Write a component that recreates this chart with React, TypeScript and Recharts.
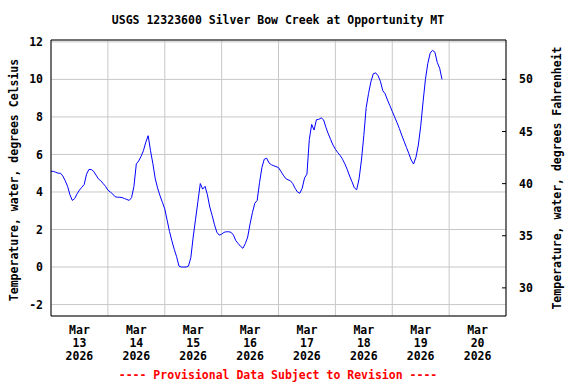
import {
  CartesianGrid,
  Line,
  LineChart,
  ReferenceLine,
  XAxis,
  YAxis,
} from "recharts";

// hourly water temperature (deg C), one array per day starting at 00:00
const mar13 = [5.1, 5.1, 5.05, 5.0, 5.0, 4.85, 4.6, 4.3, 3.85, 3.55, 3.65, 3.9, 4.1, 4.25, 4.4, 4.95, 5.2, 5.2, 5.1, 4.9, 4.7, 4.6, 4.45, 4.3];
const mar14 = [4.1, 4.0, 3.9, 3.75, 3.72, 3.72, 3.7, 3.65, 3.6, 3.55, 3.7, 4.3, 5.5, 5.65, 5.9, 6.2, 6.65, 7.0, 6.2, 5.5, 4.7, 4.2, 3.8, 3.45];
const mar15 = [3.1, 2.5, 1.9, 1.4, 0.95, 0.55, 0.05, 0.0, 0.0, 0.0, 0.05, 0.5, 1.6, 2.55, 3.5, 4.45, 4.15, 4.3, 3.85, 3.2, 2.75, 2.25, 1.85, 1.7];
const mar16 = [1.75, 1.85, 1.88, 1.88, 1.85, 1.7, 1.4, 1.25, 1.1, 1.0, 1.25, 1.6, 2.3, 2.9, 3.4, 3.55, 4.5, 5.3, 5.75, 5.8, 5.55, 5.45, 5.4, 5.35];
const mar17 = [5.3, 5.1, 4.9, 4.72, 4.65, 4.6, 4.45, 4.2, 4.0, 3.93, 4.2, 4.75, 4.95, 6.8, 7.6, 7.3, 7.85, 7.87, 7.95, 7.85, 7.45, 7.1, 6.8, 6.5];
const mar18 = [6.28, 6.1, 5.95, 5.75, 5.5, 5.2, 4.85, 4.55, 4.22, 4.12, 4.7, 5.7, 7.0, 8.5, 9.25, 9.88, 10.3, 10.35, 10.2, 9.9, 9.4, 9.23, 8.9, 8.6];
const mar19 = [8.3, 8.0, 7.7, 7.38, 7.03, 6.7, 6.37, 6.05, 5.7, 5.49, 5.85, 6.5, 7.5, 8.8, 10.0, 10.85, 11.4, 11.55, 11.45, 10.9, 10.6, 10.0];

const days = [mar13, mar14, mar15, mar16, mar17, mar18, mar19];
const dayLabels = ["13", "14", "15", "16", "17", "18", "19", "20"];
const celsiusTicks = [-2, 0, 2, 4, 6, 8, 10, 12];
const fahrenheitTicks = [30, 35, 40, 45, 50];
const midnightTicks = [0, 24, 48, 72, 96, 120, 144, 168, 192];

const C_MIN = -2.61;
const C_MAX = 12.1;
const toF = (c: number) => c * 1.8 + 32;

const data = days.flatMap((day, d) =>
  day.map((temp, h) => ({ hour: d * 24 + h, temp })),
);

const W = 576;
const H = 384;
const LEFT_W = 51;
const RIGHT_W = 70;
const TOP = 40;
const BOTTOM_H = 68;
const DAY_PX = (W - LEFT_W - RIGHT_W) / 8;

const FONT = "'DejaVu Sans Mono', 'Liberation Mono', monospace";
const tickFont = { fill: "#000", fontSize: 11.5, fontFamily: FONT, fontWeight: 700 };

function DayTick({ x, y, payload }: any) {
  const i = Math.round(payload.value / 24);
  if (i >= dayLabels.length) return <g />;
  const cx = x + DAY_PX / 2;
  return (
    <text x={cx} y={y + 18} textAnchor="middle" {...tickFont}>
      <tspan x={cx} dy={0}>Mar</tspan>
      <tspan x={cx} dy={13}>{dayLabels[i]}</tspan>
      <tspan x={cx} dy={13}>2026</tspan>
    </text>
  );
}

function RightTick({ x, y, payload }: any) {
  return (
    <g>
      <line x1={x - 4} x2={x} y1={y} y2={y} stroke="#000" />
      <text x={x + 13} y={y} dy="0.35em" textAnchor="start" {...tickFont}>
        {payload.value}
      </text>
    </g>
  );
}

export default function App() {
  return (
    <div style={{ position: "absolute", left: 0, top: 0, width: W, height: H, background: "#fff" }}>
      <LineChart
        width={W}
        height={H}
        data={data}
        margin={{ top: TOP, right: 0, bottom: 0, left: 0 }}
      >
        <CartesianGrid stroke="#c8c8c8" />
        <XAxis
          dataKey="hour"
          type="number"
          domain={[0, 192]}
          ticks={midnightTicks}
          interval={0}
          height={BOTTOM_H}
          tickSize={0}
          tickMargin={0}
          tickLine={false}
          axisLine={{ stroke: "#000" }}
          tick={<DayTick />}
        />
        <YAxis
          domain={[C_MIN, C_MAX]}
          ticks={celsiusTicks}
          interval={0}
          width={LEFT_W}
          allowDataOverflow
          tickLine={false}
          axisLine={{ stroke: "#000" }}
          tick={tickFont}
        />
        <YAxis
          yAxisId="right"
          orientation="right"
          domain={[toF(C_MIN), toF(C_MAX)]}
          ticks={fahrenheitTicks}
          interval={0}
          width={RIGHT_W}
          allowDataOverflow
          tickSize={0}
          tickMargin={0}
          tickLine={false}
          axisLine={{ stroke: "#000" }}
          tick={<RightTick />}
        />
        <ReferenceLine y={C_MAX} stroke="#000" />
        <Line
          type="linear"
          dataKey="temp"
          stroke="#0000ff"
          strokeWidth={1}
          dot={false}
          isAnimationActive={false}
        />
      </LineChart>
      <svg
        width={W}
        height={H}
        style={{ position: "absolute", left: 0, top: 0, pointerEvents: "none" }}
      >
        <text x={278} y={20} textAnchor="middle" dominantBaseline="central" {...tickFont}>
          USGS 12323600 Silver Bow Creek at Opportunity MT
        </text>
        <text
          x={14}
          y={180}
          textAnchor="middle"
          dominantBaseline="central"
          transform="rotate(-90 14 180)"
          {...tickFont}
        >
          Temperature, water, degrees Celsius
        </text>
        <text
          x={557}
          y={178}
          textAnchor="middle"
          dominantBaseline="central"
          transform="rotate(-90 557 178)"
          {...tickFont}
        >
          Temperature, water, degrees Fahrenheit
        </text>
        <text x={278} y={375} textAnchor="middle" dominantBaseline="central" {...tickFont} fill="#ff0000">
          ---- Provisional Data Subject to Revision ----
        </text>
      </svg>
    </div>
  );
}
